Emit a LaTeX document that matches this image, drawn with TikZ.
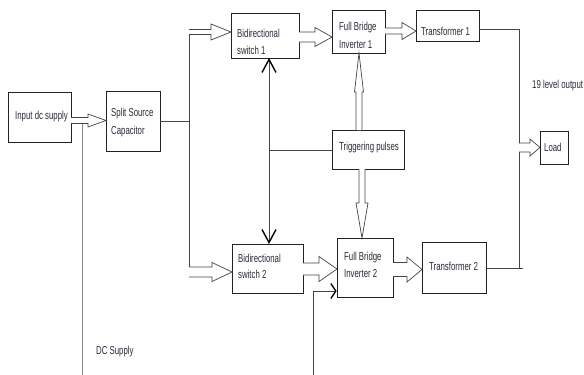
\documentclass[tikz,border=0pt]{standalone}
\usepackage{fontspec}
\setmainfont{Liberation Sans}[FakeStretch=0.68]
\usetikzlibrary{arrows.meta}
\definecolor{ink}{HTML}{222222}
\definecolor{txt}{HTML}{2A2A3A}
\definecolor{wire}{HTML}{444444}
\definecolor{lgray}{HTML}{8A8A8A}
\tikzset{
  box/.style={draw=ink, line width=0.8pt, inner sep=0pt, rectangle},
  lbl/.style={anchor=west, inner sep=0pt, text=txt, font=\fontsize{11.5}{16}\selectfont},
  wireline/.style={draw=wire, line width=0.7pt},
  barrow/.style={draw=wire, line width=0.7pt, fill=white, line join=miter},
  bigbarb/.tip={Straight Barb[length=13pt, width=14pt, line width=1.4pt, color=black]},
  smallbarb/.tip={Straight Barb[length=5pt, width=15pt, line width=1.3pt, color=black]}
}
% horizontal block arrow: x0, xtip, yc, shaft half, head half, head start x
\newcommand\harr[6]{\draw[barrow] (#1,#3-#4) -- (#6,#3-#4) -- (#6,#3-#5) -- (#2,#3) -- (#6,#3+#5) -- (#6,#3+#4) -- (#1,#3+#4);}
% vertical block arrow: y0, ytip, xc, shaft half, head half, head start y
\newcommand\varr[6]{\draw[barrow] (#3-#4,#1) -- (#3-#4,#6) -- (#3-#5,#6) -- (#3,#2) -- (#3+#5,#6) -- (#3+#4,#6) -- (#3+#4,#1);}
\begin{document}
\begin{tikzpicture}[x=1pt, y=-1pt]
\useasboundingbox[fill=white] (0,0) rectangle (584,375);

% boxes
\node[box, minimum width=63pt, minimum height=50pt] (inp) at (39.5,117) {};
\node[box, minimum width=54pt, minimum height=60pt] (split) at (133,121) {};
\node[box, minimum width=68pt, minimum height=45pt] (bs1) at (265,35.5) {};
\node[box, minimum width=53pt, minimum height=43pt] (fb1) at (358.5,31.5) {};
\node[box, minimum width=63pt, minimum height=31pt] (t1) at (447.5,25.5) {};
\node[box, minimum width=72pt, minimum height=39pt] (trig) at (368,149.5) {};
\node[box, minimum width=28pt, minimum height=33pt] (load) at (554,147.5) {};
\node[box, minimum width=71pt, minimum height=49pt] (bs2) at (267.5,268.5) {};
\node[box, minimum width=56pt, minimum height=59pt] (fb2) at (365,267.5) {};
\node[box, minimum width=64pt, minimum height=51pt] (t2) at (454,267.5) {};

% labels
\node[lbl] (linp) at (15,117) {Input dc supply};
\node[lbl] (lsp1) at (111,114) {Split Source};
\node[lbl] (lsp2) at (111,132) {Capacitor};
\node[lbl] (lbs1a) at (237,33.5) {Bidirectional};
\node[lbl] (lbs1b) at (237,50) {switch 1};
\node[lbl] (lfb1a) at (339,28) {Full Bridge};
\node[lbl] (lfb1b) at (339,44.5) {Inverter 1};
\node[lbl] (lt1) at (421,31) {Transformer 1};
\node[lbl] (ltrig) at (339,148) {Triggering pulses};
\node[lbl] (lload) at (544,147.5) {Load};
\node[lbl] (lbs2a) at (238,258) {Bidirectional};
\node[lbl] (lbs2b) at (238,274) {switch 2};
\node[lbl] (lfb2a) at (344,258) {Full Bridge};
\node[lbl] (lfb2b) at (344,273.5) {Inverter 2};
\node[lbl] (lt2) at (429,266.5) {Transformer 2};
\node[lbl] (lout) at (532,86) {19 level output};
\node[lbl] (ldc) at (96,352) {DC Supply};

% junction coordinates
\coordinate (busT) at (189,29);
\coordinate (busB) at (189,277);
\coordinate (ua) at (269,58);
\coordinate (da) at (269,244);
\coordinate (tj) at (269,150);
\coordinate (outT) at (519,29);
\coordinate (outB) at (519,268);
\coordinate (outE) at (523,268);
\coordinate (dcT) at (82,123);
\coordinate (dcB) at (82,375);
\coordinate (ctlB) at (313,375);
\coordinate (ctlC) at (313,291);

% plain connectors
\draw[wireline] (split.east) -- (split.east -| busT);
\draw[wireline] (busT) -- (busB);
\draw[wireline] (trig.west |- tj) -- (tj);
\draw[wireline, bigbarb-bigbarb] (ua) -- (da);
\draw[draw=lgray, line width=0.9pt] (dcT) -- (dcB);
\draw[wireline, -smallbarb] (ctlB) -- (ctlC) -- (ctlC -| fb2.west);
\draw[wireline] (t1.east |- outT) -- (outT) -- (outB);
\draw[wireline] (t2.east |- outB) -- (outE);

% block arrows
\harr{71}{106}{120.5}{3}{6.5}{88}
\harr{189}{231}{32}{2.5}{8}{211}
\harr{299}{332}{37}{5}{9.5}{315}
\harr{385}{416}{31}{3}{8.5}{402}
\harr{189}{232}{272}{5}{9.5}{212}
\harr{303}{337}{269}{6}{12.5}{319}
\harr{393}{422}{269.5}{7}{12.5}{407}
\harr{519}{540}{147.5}{4.5}{8.5}{530}
\varr{130}{53}{359}{3}{4.5}{92}
\varr{169}{238}{362}{3}{6}{203}
\end{tikzpicture}
\end{document}
